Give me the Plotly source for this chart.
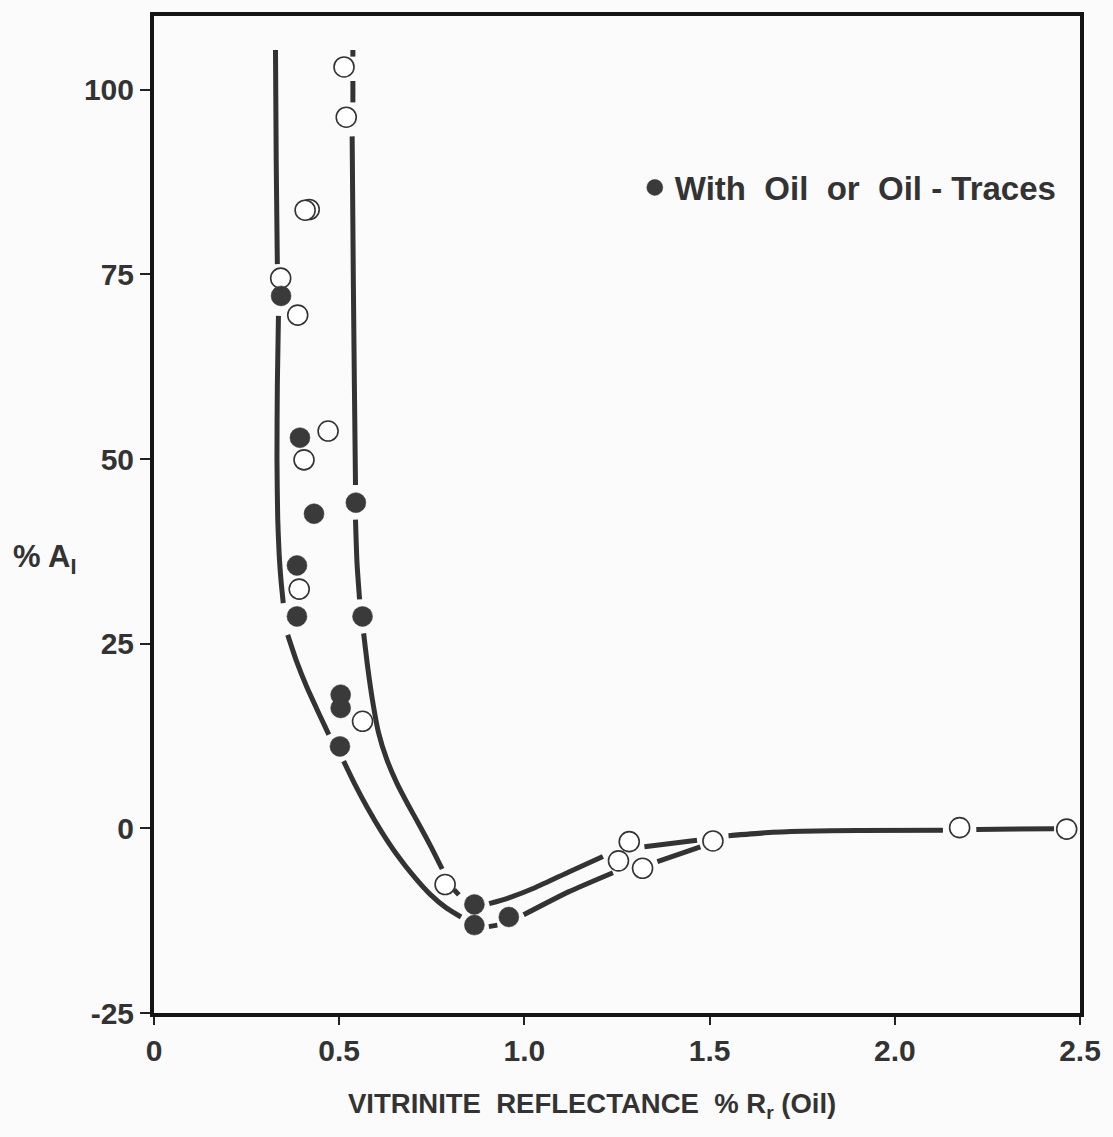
import plotly.graph_objects as go

# ---- data ----
open_x = [0.519, 0.513, 0.419, 0.408, 0.342, 0.388, 0.470, 0.405, 0.392, 0.563,
          0.786, 1.254, 1.283, 1.319, 1.509, 2.175, 2.464]
open_y = [96.3, 103.1, 83.8, 83.7, 74.5, 69.5, 53.8, 49.9, 32.4, 14.5,
          -7.6, -4.4, -1.8, -5.4, -1.7, 0.1, -0.1]

oil_x = [0.343, 0.394, 0.432, 0.545, 0.386, 0.386, 0.563, 0.504, 0.504, 0.502,
         0.865, 0.865, 0.958]
oil_y = [72.1, 52.9, 42.6, 44.1, 35.6, 28.7, 28.7, 18.1, 16.3, 11.1,
         -10.3, -13.1, -12.0]

# lower / left trend curve (None = break in the drawn line)
curve_a_x = [0.328, 0.330, 0.333, None,
             0.336, 0.333, 0.332, 0.334, 0.338, 0.343, 0.349, None,
             0.361, 0.385, 0.412, 0.442, 0.472, None,
             0.512, 0.540, 0.575, 0.615, 0.655, 0.700, 0.745, 0.790, 0.829, None,
             0.904, 0.927, None,
             0.998, 1.119, 1.239, None,
             1.359, 1.475, None,
             1.551, 1.650, 1.750, 1.900, 2.130, None,
             2.220, 2.430]
curve_a_y = [105.4, 90.0, 76.4, None,
             69.4, 60.0, 50.0, 42.0, 37.0, 33.5, 30.5, None,
             26.2, 22.6, 19.2, 15.9, 12.7, None,
             9.1, 6.2, 2.9, -0.5, -3.5, -6.4, -8.9, -10.8, -12.0, None,
             -13.3, -13.1, None,
             -11.7, -8.6, -6.0, None,
             -4.5, -2.5, None,
             -1.0, -0.6, -0.4, -0.3, -0.25, None,
             -0.15, -0.05]

# upper / right trend curve
curve_b_x = [0.537, 0.537, None,
             0.537, 0.537, None,
             0.535, 0.538, 0.541, 0.544, None,
             0.544, 0.548, 0.555, None,
             0.566, 0.577, 0.590, 0.606, 0.628, 0.655, 0.686, 0.717, 0.749, 0.778, None,
             0.810, 0.823, None,
             0.905, 0.958, 1.030, 1.120, 1.212, None,
             1.324, 1.466]
curve_b_y = [105.4, 104.5, None,
             101.2, 98.3, None,
             93.7, 75.0, 60.0, 46.5, None,
             41.8, 36.0, 31.0, None,
             26.4, 21.8, 17.3, 13.0, 9.4, 6.2, 3.2, 0.4, -2.6, -5.5, None,
             -8.3, -9.0, None,
             -10.2, -9.4, -8.0, -5.9, -3.8, None,
             -2.5, -1.6]

x_ticks = [0, 0.5, 1.0, 1.5, 2.0, 2.5]
x_tick_labels = ["0", "0.5", "1.0", "1.5", "2.0", "2.5"]
y_ticks = [100, 75, 50, 25, 0, -25]
y_tick_labels = ["100", "75", "50", "25", "0", "-25"]

legend_label = "With  Oil  or  Oil - Traces"
x_title = "VITRINITE  REFLECTANCE  % R<sub>r</sub> (Oil)"
y_title = "% A<sub>I</sub>"

# ---- styles ----
INK = "#333333"
FONT = "Liberation Sans, Arial, Helvetica, sans-serif"
BG = "#fbfbfb"

fig = go.Figure()

for cx, cy in [(curve_a_x, curve_a_y), (curve_b_x, curve_b_y)]:
    fig.add_trace(go.Scatter(
        x=cx, y=cy, mode="lines", connectgaps=False,
        line=dict(color=INK, width=5, shape="spline", smoothing=0.6),
        showlegend=False, hoverinfo="skip"))

fig.add_trace(go.Scatter(
    x=open_x, y=open_y, mode="markers", showlegend=False,
    marker=dict(symbol="circle", size=20, color="white",
                line=dict(color=INK, width=1.6))))

fig.add_trace(go.Scatter(
    x=oil_x, y=oil_y, mode="markers", name=legend_label, showlegend=True,
    marker=dict(symbol="circle", size=20, color="#3a3a3a",
                line=dict(color="#3a3a3a", width=0.5))))

L, R, T, B = 154, 23, 12, 124
PW, PH = 1113 - L - R, 1137 - T - B

fig.update_layout(
    width=1113, height=1137,
    margin=dict(l=L, r=R, t=T, b=B, pad=0),
    paper_bgcolor=BG, plot_bgcolor=BG,
    font=dict(family=FONT, color=INK, size=26, weight="bold"),
    showlegend=True,
    legend=dict(x=(640 - L) / PW, y=0.828, xanchor="left", yanchor="middle",
                bgcolor="rgba(0,0,0,0)", borderwidth=0,
                font=dict(family=FONT, size=33, color=INK, weight="bold")),
    xaxis=dict(range=[0, 2.5], tickvals=x_ticks, ticktext=x_tick_labels,
               showgrid=False, zeroline=False,
               showline=True, mirror=True, linecolor="#151515", linewidth=4,
               ticks="outside", ticklen=8, tickwidth=2, tickcolor="#222222",
               tickfont=dict(family=FONT, size=30, color=INK, weight="bold")),
    yaxis=dict(range=[-25, 110], tickvals=y_ticks, ticktext=y_tick_labels,
               showgrid=False, zeroline=False,
               showline=True, mirror=True, linecolor="#151515", linewidth=4,
               ticks="outside", ticklen=10, tickwidth=2, tickcolor="#222222",
               tickfont=dict(family=FONT, size=30, color=INK, weight="bold")),
    annotations=[
        dict(text=x_title, xref="paper", yref="paper",
             x=(597 - L) / PW, y=-(1106 - 1013) / PH,
             xanchor="center", yanchor="middle", showarrow=False,
             font=dict(family=FONT, size=27.5, color=INK, weight="bold")),
        dict(text=y_title, xref="paper", yref="paper",
             x=-(L - 9) / PW, y=(1013 - 557) / PH,
             xanchor="left", yanchor="middle", showarrow=False,
             font=dict(family=FONT, size=31, color=INK, weight="bold")),
    ],
)

fig.write_html("out.html")
